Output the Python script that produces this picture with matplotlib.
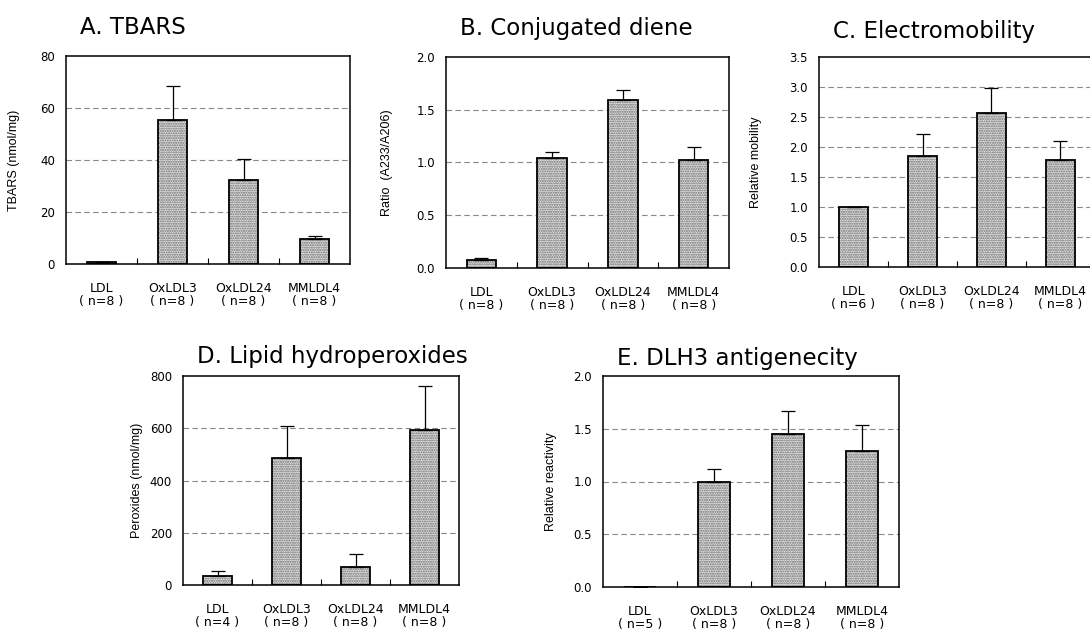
import numpy as np
import matplotlib
matplotlib.use("Agg")
import matplotlib.pyplot as plt

plt.rcParams['font.family'] = ['Liberation Sans', 'DejaVu Sans']

# data
groups = ["LDL", "OxLDL3", "OxLDL24", "MMLDL4"]

tbars = [0.8, 55.2, 32.5, 9.7]
tbars_err = [0.0, 13.4, 7.9, 1.0]
tbars_n = [8, 8, 8, 8]

diene = [0.073, 1.04, 1.595, 1.02]
diene_err = [0.022, 0.06, 0.09, 0.125]
diene_n = [8, 8, 8, 8]

mobility = [1.0, 1.85, 2.57, 1.78]
mobility_err = [0.0, 0.37, 0.42, 0.32]
mobility_n = [6, 8, 8, 8]

peroxides = [36, 485, 68, 593]
peroxides_err = [19, 125, 52, 170]
peroxides_n = [4, 8, 8, 8]

reactivity = [0.0, 1.0, 1.446, 1.29]
reactivity_err = [0.0, 0.115, 0.22, 0.25]
reactivity_n = [5, 8, 8, 8]

W, H = 1090, 631
fig = plt.figure(figsize=(W / 100, H / 100), dpi=100)


def px_axes(left, top, right, bottom):
    return fig.add_axes([left / W, 1 - bottom / H, (right - left) / W, (bottom - top) / H])


def panel(ax, vals, errs, ns, ymax, step, fmt, title, ylabel, label_x, title_off):
    x = np.arange(len(groups))
    # stippled fill, then black outline on top
    ax.bar(x, vals, width=0.42, color='#e2e2e2', edgecolor='#6a6a6a', hatch='.......',
           linewidth=0, zorder=2)
    ax.bar(x, vals, width=0.42, color='none', edgecolor='black', linewidth=1.3, zorder=3)
    ax.errorbar(x, vals, yerr=[np.zeros(len(vals)), errs], fmt='none', ecolor='black',
                elinewidth=0.9, capsize=5, capthick=0.9, zorder=4)
    ax.set_xlim(-0.5, len(groups) - 0.5)
    ax.set_ylim(0, ymax)
    ticks = np.arange(0, ymax + step / 2, step)
    ax.set_yticks(ticks)
    ax.set_yticklabels([fmt.format(t) for t in ticks], fontsize=8.5, family='DejaVu Sans')
    for t in ticks[1:-1]:
        ax.axhline(t, color='#888888', linewidth=0.8, dashes=(5, 3), zorder=1)
    ax.set_xticks(x)
    ax.set_xticklabels([f"{g}\n( n={n} )" for g, n in zip(groups, ns)], fontsize=9,
                       linespacing=1.0, family='DejaVu Sans')
    ax.tick_params(axis='x', length=0, pad=13)
    ax.tick_params(axis='y', length=0, pad=8)
    ax.set_xticks(np.arange(0.5, len(groups) - 0.5), minor=True)
    ax.tick_params(axis='x', which='minor', direction='in', length=4, width=0.8)
    for s in ax.spines.values():
        s.set_linewidth(1.1)
    ax.set_ylabel(ylabel, fontsize=9)
    ax.yaxis.set_label_coords(label_x, 0.5)
    ax.annotate(title, xy=(0, 1), xycoords='axes fraction', xytext=(10, title_off),
                textcoords='offset points', fontsize=16.5, ha='left', va='baseline',
                family='DejaVu Sans')


axA = px_axes(66, 56, 350, 264)
panel(axA, tbars, tbars_err, tbars_n, 80, 20, "{:.0f}", "A. TBARS",
      "TBARS (nmol/mg)", -0.162, 16)

axB = px_axes(446, 57, 729, 268)
panel(axB, diene, diene_err, diene_n, 2.0, 0.5, "{:.1f}", "B. Conjugated diene",
      "Ratio  (A233/A206)", -0.187, 16)

axC = px_axes(819, 57, 1095, 267)
panel(axC, mobility, mobility_err, mobility_n, 3.5, 0.5, "{:.1f}", "C. Electromobility",
      "Relative mobility", -0.207, 14)

axD = px_axes(183, 376, 459, 585)
panel(axD, peroxides, peroxides_err, peroxides_n, 800, 200, "{:.0f}", "D. Lipid hydroperoxides",
      "Peroxides (nmol/mg)", -0.145, 9)

axE = px_axes(603, 376, 899, 587)
panel(axE, reactivity, reactivity_err, reactivity_n, 2.0, 0.5, "{:.1f}", "E. DLH3 antigenecity",
      "Relative reactivity", -0.155, 8)

fig.savefig("out.png", dpi=100)
